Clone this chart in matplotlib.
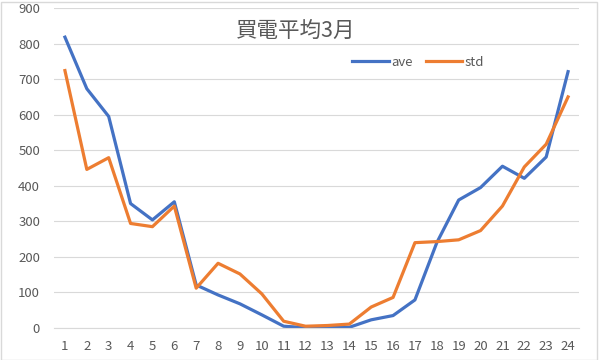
import matplotlib.pyplot as plt
from matplotlib.patches import Rectangle

plt.rcParams['font.family'] = ['Noto Sans CJK JP', 'DejaVu Sans']

# hourly purchased electricity, March
hours = list(range(1, 25))
ave = [818, 673, 595, 350, 304, 355, 121, 93, 68, 37, 5, 1,
       2, 2, 23, 35, 79, 240, 360, 395, 455, 421, 481, 721]
std = [724, 446, 479, 294, 285, 343, 112, 182, 152, 96, 19, 5,
       7, 11, 59, 86, 240, 243, 248, 274, 343, 453, 517, 650]

grey = '#595959'

fig = plt.figure(figsize=(6, 3.6), dpi=100)
ax = fig.add_axes([54 / 600, 32 / 360, 525 / 600, 320 / 360])

ax.plot(hours, ave, color='#4472C4', lw=2.3, label='ave', solid_joinstyle='round')
ax.plot(hours, std, color='#ED7D31', lw=2.3, label='std', solid_joinstyle='round')

ax.set_xlim(0.5, 24.5)
ax.set_ylim(0, 900)
ax.set_xticks(hours)
ax.set_yticks(range(0, 901, 100))
ax.grid(axis='y', color='#D9D9D9', lw=0.8)
ax.set_axisbelow(True)
for s in ax.spines.values():
    s.set_visible(False)
ax.spines['bottom'].set_visible(True)
ax.spines['bottom'].set_color('#D9D9D9')
ax.tick_params(length=0, colors=grey, labelsize=9.5)
ax.tick_params(axis='x', pad=9)
ax.tick_params(axis='y', pad=10)

fig.text(296 / 600, 1 - 31 / 360, '買電平均3月', ha='center', va='center',
         fontsize=15.5, color=grey)

leg = ax.legend(loc='center', bbox_to_anchor=(418 / 600, 1 - 62 / 360),
                bbox_transform=fig.transFigure, ncol=2, frameon=False,
                fontsize=9.5, handlelength=2.8, handletextpad=0.15,
                columnspacing=1.0, labelcolor=grey)

# chart area border
fig.patches.append(Rectangle((0.5 / 600, 0.5 / 360), 596.5 / 600, 358 / 360,
                             transform=fig.transFigure, fill=False,
                             edgecolor='#D9D9D9', lw=1))

fig.savefig('out.png', dpi=100)
